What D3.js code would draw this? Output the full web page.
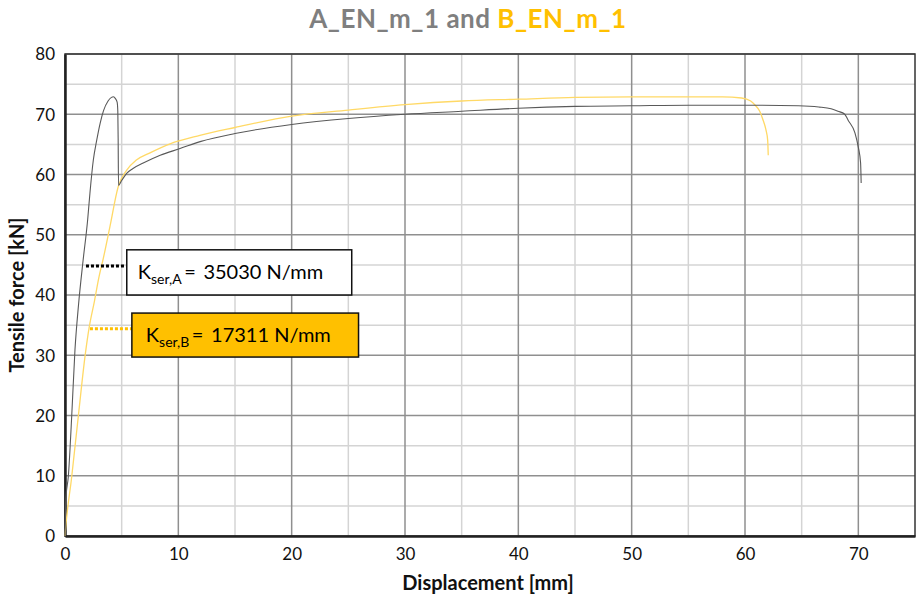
<!DOCTYPE html>
<html>
<head>
<meta charset="utf-8">
<script src="https://cdn.jsdelivr.net/npm/d3@7"></script>
<style>
  body { margin: 0; background: #fff; }
  svg { display: block; }
</style>
</head>
<body>
<div id="chart"></div>
<script>
// specimen A (grey) - displacement [mm] / force [kN]
var dispA = [0, 0.09, 0.29, 0.59, 0.88, 1.2, 1.6, 2.0, 2.2, 2.5, 2.8, 3.1, 3.4, 3.8, 4.1, 4.27, 4.45, 4.6, 4.66, 4.69, 4.72,
  5.0, 5.44, 6.0, 6.9, 8.4, 10.15, 12, 15, 20, 25, 30, 35, 40, 45, 50, 55, 60, 64.7, 66.5, 67.6, 68.2, 68.8, 69.1, 69.7, 70.0, 70.2, 70.25];
var forceA = [0, 6.5, 9.8, 19.8, 30.9, 38.5, 45.8, 52.5, 56.9, 62.4, 65.7, 68.5, 70.6, 72.2, 72.8, 72.9, 72.6, 72.0, 70.5, 66, 58.2,
  59.0, 60.2, 61.0, 61.9, 63.2, 64.3, 65.5, 66.8, 68.3, 69.3, 70.0, 70.5, 71.0, 71.3, 71.4, 71.5, 71.5, 71.4, 71.2, 70.9, 70.5, 70.0, 69.0, 66.9, 64.5, 61.9, 58.6];

// specimen B (yellow)
var dispB = [0, 0.02, 0.59, 1.17, 1.8, 2.14, 2.6, 3.0, 3.37, 3.96, 4.7, 5.43, 6.3, 7.5, 9.27, 11.9, 15, 20, 25, 30, 35, 40, 45, 50, 55, 58,
  59.7, 60.5, 60.9, 61.3, 61.6, 61.85, 62.0, 62.05];
var forceB = [0, 0.5, 9.8, 19.8, 30.3, 34.7, 39, 43, 46, 51.3, 58.0, 60.7, 62.4, 63.6, 65.1, 66.5, 67.8, 69.7, 70.7, 71.6, 72.2, 72.5, 72.8, 72.9, 72.9, 72.9,
  72.7, 72.2, 71.5, 70.5, 69.0, 67.4, 65.7, 63.2];

var xTicks = [0, 10, 20, 30, 40, 50, 60, 70];
var yTicks = [0, 10, 20, 30, 40, 50, 60, 70, 80];
var kLabels = ["ser,A", "ser,B"];
var kValues = ["35030 N/mm", "17311 N/mm"];

var width = 918, height = 599;
var margin = { top: 54, right: 3, bottom: 63, left: 65 };
var iw = width - margin.left - margin.right;
var ih = height - margin.top - margin.bottom;
var font = "Lato, 'Open Sans', sans-serif";
var grey = "#7f7f7f", gold = "#ffc000";

var svg = d3.select("#chart").append("svg")
  .attr("width", width)
  .attr("height", height)
  .style("font-family", font);

var x = d3.scaleLinear().domain([0, 75]).range([0, iw]);
var y = d3.scaleLinear().domain([0, 80]).range([ih, 0]);

var g = svg.append("g").attr("transform", `translate(${margin.left},${margin.top})`);

// minor grid (every 5)
var minorX = d3.range(5, 75, 10), minorY = d3.range(5, 80, 10);
g.selectAll(".mgx").data(minorX).join("line")
  .attr("x1", d => x(d)).attr("x2", d => x(d)).attr("y1", 0).attr("y2", ih)
  .attr("stroke", "#d4d4d4").attr("stroke-width", 1.5);
g.selectAll(".mgy").data(minorY).join("line")
  .attr("y1", d => y(d)).attr("y2", d => y(d)).attr("x1", 0).attr("x2", iw)
  .attr("stroke", "#d4d4d4").attr("stroke-width", 1.5);

// major grid
g.selectAll(".gx").data(xTicks.slice(1)).join("line")
  .attr("x1", d => x(d)).attr("x2", d => x(d)).attr("y1", 0).attr("y2", ih)
  .attr("stroke", "#8f8f8f").attr("stroke-width", 1.5);
g.selectAll(".gy").data(yTicks.slice(1)).join("line")
  .attr("y1", d => y(d)).attr("y2", d => y(d)).attr("x1", 0).attr("x2", iw)
  .attr("stroke", "#8f8f8f").attr("stroke-width", 1.5);

// frame
g.append("rect").attr("width", iw).attr("height", ih)
  .attr("fill", "none").attr("stroke", "#333").attr("stroke-width", 1.5);

// axes
var xAxis = g.append("g").attr("transform", `translate(0,${ih})`)
  .call(d3.axisBottom(x).tickValues(xTicks).tickSize(0).tickPadding(12));
var yAxis = g.append("g")
  .call(d3.axisLeft(y).tickValues(yTicks).tickSize(0).tickPadding(10));
[xAxis, yAxis].forEach(a => {
  a.select(".domain").attr("stroke", "#222").attr("stroke-width", 2.5);
  a.selectAll("text").attr("font-size", 17).attr("fill", "#111").style("font-family", font);
});
yAxis.selectAll("text").attr("dy", "0.35em");

// curves
var line = d3.line().curve(d3.curveMonotoneX).x(d => x(d[0])).y(d => y(d[1]));
var seriesB = d3.zip(dispB, forceB), seriesA = d3.zip(dispA, forceA);
g.append("path").datum(seriesB).attr("d", line)
  .attr("fill", "none").attr("stroke", "#ffd966").attr("stroke-width", 1.3);
g.append("path").datum(seriesA).attr("d", line)
  .attr("fill", "none").attr("stroke", "#595959").attr("stroke-width", 1.1);

// stiffness annotations
var notes = [
  { lead: [1.85, 5.45], level: 44.8, box: [5.45, 25.3, 47.5, 40.0], fill: "#fff", dot: "#000" },
  { lead: [2.2, 5.9], level: 34.4, box: [5.9, 25.9, 37.0, 29.7], fill: gold, dot: gold }
];
notes.forEach((n, i) => {
  g.append("line")
    .attr("x1", x(n.lead[0])).attr("x2", x(n.lead[1]))
    .attr("y1", y(n.level)).attr("y2", y(n.level))
    .attr("stroke", n.dot).attr("stroke-width", 3).attr("stroke-dasharray", "3,2");
  g.append("rect")
    .attr("x", x(n.box[0])).attr("y", y(n.box[2]))
    .attr("width", x(n.box[1]) - x(n.box[0])).attr("height", y(n.box[3]) - y(n.box[2]))
    .attr("fill", n.fill).attr("stroke", "#111").attr("stroke-width", 1.5);
  var t = g.append("text")
    .attr("x", x(n.box[0]) + 11 + i * 3)
    .attr("y", (y(n.box[2]) + y(n.box[3])) / 2 + 7)
    .attr("font-size", 20).attr("fill", "#000");
  t.append("tspan").text("K");
  t.append("tspan").attr("font-size", 14).attr("dy", 5).text(kLabels[i]);
  t.append("tspan").attr("dy", -5).text("\u2009= \u2009" + kValues[i]);
});

// title
var title = svg.append("text").attr("x", 468).attr("y", 28)
  .attr("text-anchor", "middle").attr("font-size", 26).attr("font-weight", "bold")
  .attr("letter-spacing", 0.5);
title.append("tspan").attr("fill", grey).text("A_EN_m_1 and ");
title.append("tspan").attr("fill", gold).text("B_EN_m_1");

// axis titles
svg.append("text").attr("x", margin.left + iw / 2 - 2).attr("y", 590)
  .attr("text-anchor", "middle").attr("font-size", 20).attr("font-weight", "bold")
  .attr("fill", "#111").text("Displacement [mm]");
svg.append("text").attr("transform", `translate(24,${margin.top + ih / 2}) rotate(-90)`)
  .attr("text-anchor", "middle").attr("font-size", 20).attr("font-weight", "bold")
  .attr("fill", "#111").text("Tensile force [kN]");
</script>
</body>
</html>
